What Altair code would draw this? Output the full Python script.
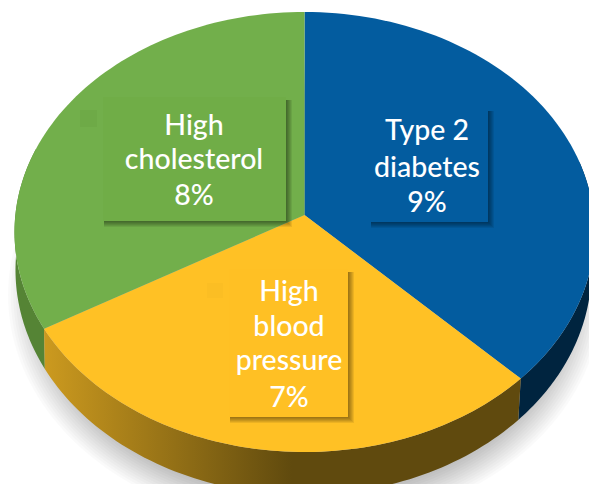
import math
import altair as alt
import pandas as pd

# Chart values
labels = [["Type 2", "diabetes", "9%"], ["High", "blood", "pressure", "7%"], ["High", "cholesterol", "8%"]]
values = [9, 7, 8]
top_colors = ["#035C9F", "#FFC125", "#72AF4B"]
box_colors = ["#035C9F", "#FFC024", "#70AD47"]
rim_colors = ["#00243F", None, "#558435"]

W, H = 589, 484
X = alt.X("x:Q", axis=None, scale=alt.Scale(domain=[8, W]))
Y = alt.Y("y:Q", axis=None, scale=alt.Scale(domain=[H, 8]))

TOP = (304.5, 232.0, 290.0, 220.0)
LOW = (303.5, 270.0, 288.0, 225.0)
K = (215.0 - 232.0) / 220.0


def proj(theta, e):
    """Perspective view of a point on the pie's circle (theta clockwise from 12 o'clock)."""
    sx, sy = math.sin(theta), -math.cos(theta)
    d = 1 + K * sy
    return (e[0] + e[2] * sx * math.sqrt(1 - K * K) / d, e[1] + e[3] * (sy + K) / d)


def arc(a, b, e, n=80):
    return [proj(a + (b - a) * i / n, e) for i in range(n + 1)]


def shape(pts, **mark):
    df = pd.DataFrame(pts, columns=["x", "y"])
    df["o"] = range(len(df))
    return alt.Chart(df).mark_line(clip=True, filled=True, strokeWidth=0, **mark).encode(
        x=X, y=Y, order=alt.Order("o:Q", sort="ascending")
    )


def rect(x0, x1, y0, y1, **mark):
    df = pd.DataFrame({"x": [x0], "x2": [x1], "y": [y0], "y2": [y1]})
    return alt.Chart(df).mark_rect(clip=True, **mark).encode(x=X, x2="x2:Q", y=Y, y2="y2:Q")


layers = []

# Soft drop shadow under the pie
steps = 14
for i in range(steps):
    f = i / (steps - 1)
    rx, ry = 297 - 34 * f, 233 - 32 * f
    pts = [(305 + rx * math.cos(t / 90 * math.pi), 295 + ry * math.sin(t / 90 * math.pi)) for t in range(180)]
    layers.append(shape(pts, fill="#000000", fillOpacity=0.018))

# Slice angles from the values
total = sum(values)
edges = [0.0]
for v in values:
    edges.append(edges[-1] + v / total * 2 * math.pi)

# Side wall
yellow_grad = alt.Gradient(
    gradient="linear", x1=0, x2=1, y1=0, y2=0,
    stops=[
        alt.GradientStop(color="#CC9A1F", offset=0),
        alt.GradientStop(color="#604A0E", offset=0.52),
        alt.GradientStop(color="#604A0E", offset=1),
    ],
)
layers.append(shape(arc(math.pi * 0.42, edges[1], LOW) + arc(edges[1], math.pi * 0.42, TOP), fill=rim_colors[0]))
layers.append(shape(arc(edges[2], math.pi * 1.6, LOW) + arc(math.pi * 1.6, edges[2], TOP), fill=rim_colors[2]))
layers.append(shape(arc(edges[1], edges[2], LOW) + arc(edges[2], edges[1], TOP), fill=yellow_grad))

# Top face
tip = (TOP[0], TOP[1] + K * TOP[3])
for i in range(3):
    layers.append(shape([tip] + arc(edges[i], edges[i + 1], TOP) + [tip], fill=top_colors[i]))

# Faint bullet squares left over on the slices
layers.append(rect(80, 97, 110, 127, color="#6EAA47"))
layers.append(rect(207, 223, 283, 298, color="#FBBE24"))

# Label boxes with their shadows
boxes = [(370, 488, 108, 222), (229, 348, 269, 417), (103, 286, 97, 221)]
for (x0, x1, y0, y1), c in zip(boxes, box_colors):
    for g in range(6):
        layers.append(rect(x0 + 1, x1 + 1 + g, y0 + 3, y1 + 1 + g, color="#000000", opacity=0.075))
    layers.append(rect(x0, x1, y0, y1, color=c))

# Labels
centers = [427, 289, 194]
baselines = [[140, 177, 212], [301, 336, 370, 407], [135, 169, 205]]
rows = []
for lab, cx, bl in zip(labels, centers, baselines):
    for t, b in zip(lab, bl):
        rows.append({"x": cx, "y": b, "t": t})
layers.append(
    alt.Chart(pd.DataFrame(rows)).mark_text(
        font="Lato", fontSize=28.5, fontWeight=500, color="#FFFFFF", align="center", baseline="alphabetic"
    ).encode(x=X, y=Y, text="t:N")
)

chart = alt.layer(*layers).properties(
    width=W - 8, height=H - 8, padding=0, autosize=alt.AutoSizeParams(type="none"), background="#FFFFFF"
).configure_view(stroke=None)

chart.save("out.html", embed_options={"renderer": "svg", "actions": False})
